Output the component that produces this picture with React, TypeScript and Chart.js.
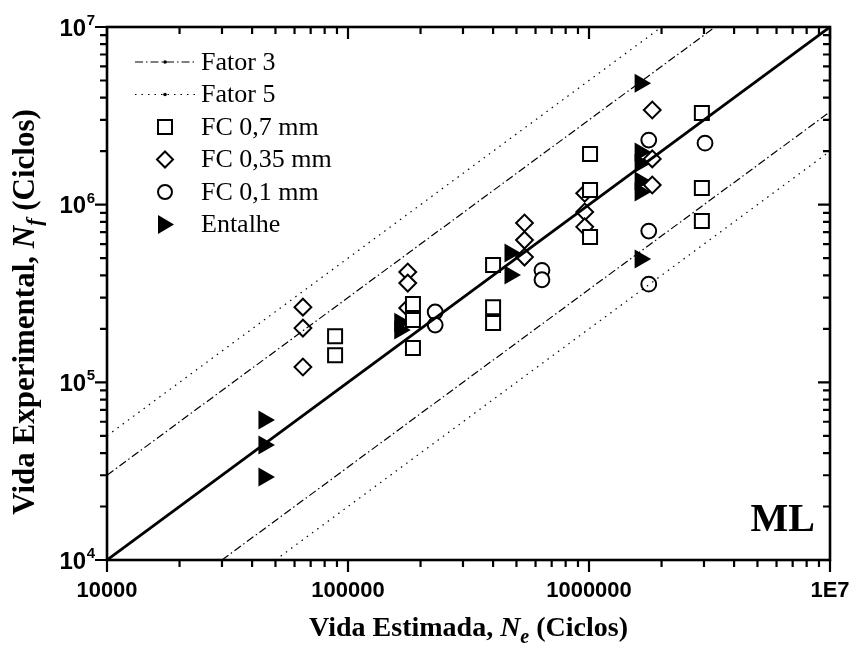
import React, { useEffect, useRef } from "react";
import { Chart, registerables } from "chart.js";

Chart.register(...registerables);

// ---------- DATA ----------
const axisMin = 1e4;
const axisMax = 1e7;
const xTickValues = [1e4, 1e5, 1e6, 1e7];
const xTickLabels = ["10000", "100000", "1000000", "1E7"];
const yTickValues = [1e4, 1e5, 1e6, 1e7];
const yTickExponents = ["4", "5", "6", "7"];

// FC 0,7 mm (open squares)
const fc07X = [8.84e4, 8.84e4, 1.86e5, 1.86e5, 1.86e5, 4.0e5, 4.0e5, 4.0e5, 1.01e6, 1.01e6, 1.01e6, 2.94e6, 2.94e6, 2.94e6];
const fc07Y = [1.82e5, 1.42e5, 2.76e5, 2.24e5, 1.56e5, 4.57e5, 2.65e5, 2.16e5, 1.93e6, 1.21e6, 6.57e5, 3.28e6, 1.24e6, 8.09e5];

// FC 0,35 mm (open diamonds)
const fc035X = [6.5e4, 6.5e4, 6.5e4, 1.77e5, 1.77e5, 1.77e5, 5.4e5, 5.4e5, 5.4e5, 9.6e5, 9.6e5, 9.6e5, 1.83e6, 1.83e6, 1.83e6];
const fc035Y = [2.65e5, 2.02e5, 1.22e5, 4.18e5, 3.62e5, 2.62e5, 7.88e5, 6.32e5, 5.07e5, 1.16e6, 9.1e5, 7.5e5, 3.41e6, 1.81e6, 1.29e6];

// FC 0,1 mm (open circles)
const fc01X = [2.3e5, 2.3e5, 6.38e5, 6.38e5, 1.77e6, 1.77e6, 1.77e6, 3.03e6];
const fc01Y = [2.49e5, 2.1e5, 4.27e5, 3.78e5, 2.31e6, 7.1e5, 3.57e5, 2.22e6];

// Entalhe (filled triangles)
const entX = [4.48e4, 4.48e4, 4.48e4, 1.64e5, 1.64e5, 4.7e5, 4.7e5, 1.63e6, 1.63e6, 1.63e6, 1.63e6, 1.63e6, 1.63e6];
const entY = [6.14e4, 4.44e4, 2.93e4, 2.18e5, 1.97e5, 5.34e5, 4.02e5, 4.83e6, 1.98e6, 1.71e6, 1.36e6, 1.18e6, 4.94e5];

// scatter-band factors
const factors = [3, 5];

const legendLabels = ["Fator 3", "Fator 5", "FC 0,7 mm", "FC 0,35 mm", "FC 0,1 mm", "Entalhe"];
const xTitleRuns = ["Vida Estimada, ", "N", "e", " (Ciclos)"];
const yTitleRuns = ["Vida Experimental, ", "N", "f", " (Ciclos)"];
const panelLabel = "ML";

// ---------- STYLE ----------
const SERIF = '"Liberation Serif", "Times New Roman", serif';
const SANS = '"Liberation Sans", Arial, sans-serif';
const DASH_F3 = [8, 3, 1.5, 3];
const DASH_F5 = [1.5, 5];

const pts = (xs: number[], ys: number[]) => xs.map((x, i) => ({ x, y: ys[i] }));

function drawRuns(ctx: CanvasRenderingContext2D, runs: { t: string; f: string; dy?: number }[], cx: number, y: number) {
  let total = 0;
  for (const r of runs) {
    ctx.font = r.f;
    total += ctx.measureText(r.t).width;
  }
  let x = cx - total / 2;
  ctx.textAlign = "left";
  ctx.textBaseline = "alphabetic";
  for (const r of runs) {
    ctx.font = r.f;
    ctx.fillText(r.t, x, y + (r.dy || 0));
    x += ctx.measureText(r.t).width;
  }
}

const framePlugin = {
  id: "frame",
  afterDraw(chart: any) {
    const ctx: CanvasRenderingContext2D = chart.ctx;
    const xs = chart.scales.x;
    const ys = chart.scales.y;
    const { left, right, top, bottom } = chart.chartArea;
    ctx.save();
    ctx.strokeStyle = "#000";
    ctx.fillStyle = "#000";
    ctx.setLineDash([]);

    // frame
    ctx.lineWidth = 2.6;
    ctx.strokeRect(left, top, right - left, bottom - top);

    // ticks
    const major = 12;
    const minor = 7;
    ctx.lineWidth = 2.2;
    const tickVals: { v: number; len: number }[] = [];
    for (let d = axisMin; d <= axisMax; d *= 10) {
      tickVals.push({ v: d, len: major });
      if (d < axisMax) for (let k = 2; k <= 9; k++) tickVals.push({ v: d * k, len: minor });
    }
    ctx.beginPath();
    for (const t of tickVals) {
      const px = xs.getPixelForValue(t.v);
      ctx.moveTo(px, bottom);
      ctx.lineTo(px, bottom + t.len);
      ctx.moveTo(px, top);
      ctx.lineTo(px, top + t.len);
      const py = ys.getPixelForValue(t.v);
      ctx.moveTo(left, py);
      ctx.lineTo(left - t.len, py);
      ctx.moveTo(right, py);
      ctx.lineTo(right - t.len, py);
    }
    ctx.stroke();

    // x tick labels
    ctx.font = `bold 22px ${SANS}`;
    ctx.textAlign = "center";
    ctx.textBaseline = "alphabetic";
    xTickValues.forEach((v, i) => {
      ctx.fillText(xTickLabels[i], xs.getPixelForValue(v), 597);
    });

    // y tick labels 10^n
    yTickValues.forEach((v, i) => {
      const py = ys.getPixelForValue(v);
      ctx.font = `bold 15px ${SANS}`;
      ctx.textAlign = "left";
      ctx.textBaseline = "alphabetic";
      const supW = ctx.measureText(yTickExponents[i]).width;
      const supX = 95 - supW;
      ctx.fillText(yTickExponents[i], supX, py - 2);
      ctx.font = `bold 24px ${SANS}`;
      ctx.textAlign = "right";
      ctx.fillText("10", supX - 0.5, py + 8.5);
    });

    // axis titles
    const tf = `bold 28px ${SERIF}`;
    const tfi = `italic bold 28px ${SERIF}`;
    const sfi = `italic bold 20px ${SERIF}`;
    drawRuns(
      ctx,
      [
        { t: xTitleRuns[0], f: tf },
        { t: xTitleRuns[1], f: tfi },
        { t: xTitleRuns[2], f: sfi, dy: 7 },
        { t: xTitleRuns[3], f: tf },
      ],
      (left + right) / 2,
      636
    );
    const yf = `bold 31px ${SERIF}`;
    const yfi = `italic bold 31px ${SERIF}`;
    const ysfi = `italic bold 22px ${SERIF}`;
    ctx.save();
    ctx.translate(34, 312);
    ctx.rotate(-Math.PI / 2);
    drawRuns(
      ctx,
      [
        { t: yTitleRuns[0], f: yf },
        { t: yTitleRuns[1], f: yfi },
        { t: yTitleRuns[2], f: ysfi, dy: 7 },
        { t: yTitleRuns[3], f: yf },
      ],
      0,
      0
    );
    ctx.restore();

    // panel label
    ctx.font = `bold 40px ${SERIF}`;
    ctx.textAlign = "right";
    ctx.textBaseline = "alphabetic";
    ctx.fillText(panelLabel, 815, 531);

    // legend
    const rowY = [62, 94.5, 127, 159.5, 192, 224.5];
    const symX = 165;
    const textX = 201;
    ctx.font = `26px ${SERIF}`;
    ctx.textAlign = "left";
    ctx.textBaseline = "middle";
    legendLabels.forEach((lab, i) => {
      ctx.fillStyle = "#000";
      ctx.fillText(lab, textX, rowY[i] + 1);
    });
    [DASH_F3, DASH_F5].forEach((dash, i) => {
      ctx.lineWidth = 1.2;
      ctx.setLineDash(dash);
      ctx.beginPath();
      ctx.moveTo(135, rowY[i]);
      ctx.lineTo(195, rowY[i]);
      ctx.stroke();
      ctx.setLineDash([]);
      ctx.beginPath();
      ctx.arc(symX, rowY[i], 1.8, 0, Math.PI * 2);
      ctx.fill();
    });
    ctx.setLineDash([]);
    ctx.lineWidth = 2;
    ctx.fillStyle = "#fff";
    ctx.beginPath();
    ctx.rect(symX - 7, rowY[2] - 7, 14, 14);
    ctx.fill();
    ctx.stroke();
    ctx.beginPath();
    ctx.moveTo(symX - 8, rowY[3]);
    ctx.lineTo(symX, rowY[3] - 8);
    ctx.lineTo(symX + 8, rowY[3]);
    ctx.lineTo(symX, rowY[3] + 8);
    ctx.closePath();
    ctx.fill();
    ctx.stroke();
    ctx.beginPath();
    ctx.arc(symX, rowY[4], 7, 0, Math.PI * 2);
    ctx.fill();
    ctx.stroke();
    ctx.fillStyle = "#000";
    ctx.beginPath();
    ctx.moveTo(symX + 9, rowY[5]);
    ctx.lineTo(symX - 7, rowY[5] - 9.5);
    ctx.lineTo(symX - 7, rowY[5] + 9.5);
    ctx.closePath();
    ctx.fill();

    ctx.restore();
  },
};

export default function App() {
  const canvasRef = useRef<HTMLCanvasElement | null>(null);

  useEffect(() => {
    if (!canvasRef.current) return;
    const lineSets: any[] = [
      {
        label: "1:1",
        data: [
          { x: axisMin, y: axisMin },
          { x: axisMax, y: axisMax },
        ],
        showLine: true,
        borderColor: "#000",
        borderWidth: 2.8,
        pointRadius: 0,
      },
    ];
    factors.forEach((f, i) => {
      const dash = i === 0 ? DASH_F3 : DASH_F5;
      lineSets.push({
        label: `Fator ${f} sup`,
        data: [
          { x: axisMin, y: axisMin * f },
          { x: axisMax / f, y: axisMax },
        ],
        showLine: true,
        borderColor: "#000",
        borderWidth: 1.2,
        borderDash: dash,
        pointRadius: 0,
      });
      lineSets.push({
        label: `Fator ${f} inf`,
        data: [
          { x: axisMin * f, y: axisMin },
          { x: axisMax, y: axisMax / f },
        ],
        showLine: true,
        borderColor: "#000",
        borderWidth: 1.2,
        borderDash: dash,
        pointRadius: 0,
      });
    });

    const markerBase = { showLine: false, borderColor: "#000", pointBorderWidth: 2 };

    const chart = new Chart(canvasRef.current, {
      type: "scatter",
      data: {
        datasets: [
          ...lineSets,
          { ...markerBase, label: "FC 0,7 mm", data: pts(fc07X, fc07Y), pointStyle: "rect", pointRadius: 9.9, backgroundColor: "#fff", pointBackgroundColor: "#fff" },
          { ...markerBase, label: "FC 0,35 mm", data: pts(fc035X, fc035Y), pointStyle: "rectRot", pointRadius: 8.4, backgroundColor: "#fff", pointBackgroundColor: "#fff" },
          { ...markerBase, label: "FC 0,1 mm", data: pts(fc01X, fc01Y), pointStyle: "circle", pointRadius: 7.4, backgroundColor: "#fff", pointBackgroundColor: "#fff" },
          { ...markerBase, label: "Entalhe", data: pts(entX, entY), pointStyle: "triangle", pointRotation: 90, pointRadius: 11, pointBorderWidth: 0, backgroundColor: "#000", pointBackgroundColor: "#000" },
        ] as any,
      },
      options: {
        animation: false,
        responsive: false,
        events: [],
        layout: { padding: { left: 107, right: 23, top: 27, bottom: 96 } },
        plugins: { legend: { display: false }, tooltip: { enabled: false } },
        scales: {
          x: { type: "logarithmic", min: axisMin, max: axisMax, display: false },
          y: { type: "logarithmic", min: axisMin, max: axisMax, display: false },
        },
      },
      plugins: [framePlugin],
    });
    return () => chart.destroy();
  }, []);

  return (
    <div style={{ position: "fixed", left: 0, top: 0, width: 853, height: 656, background: "#fff" }}>
      <canvas ref={canvasRef} width={853} height={656} style={{ display: "block" }} />
    </div>
  );
}
